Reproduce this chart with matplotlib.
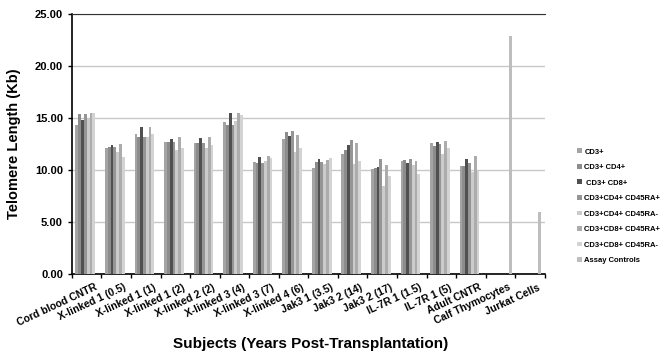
import matplotlib.pyplot as plt
import numpy as np

plt.rcParams['font.family'] = ['Liberation Sans', 'DejaVu Sans']

# subjects (x categories)
subjects = ["Cord blood CNTR", "X-linked 1 (0.5)", "X-linked 1 (1)", "X-linked 1 (2)",
            "X-linked 2 (2)", "X-linked 3 (4)", "X-linked 3 (7)", "X-linked 4 (6)",
            "Jak3 1 (3.5)", "Jak3 2 (14)", "Jak3 2 (17)", "IL-7R 1 (1.5)",
            "IL-7R 1 (5)", "Adult CNTR", "Calf Thymocytes", "Jurkat Cells"]

series_names = ["CD3+", "CD3+ CD4+", " CD3+ CD8+", "CD3+CD4+ CD45RA+",
                "CD3+CD4+ CD45RA-", "CD3+CD8+ CD45RA+", "CD3+CD8+ CD45RA-",
                "Assay Controls"]

# telomere length (Kb), one list per subset, per subject (first 14 subjects)
cd3 =          [14.3, 12.1, 13.5, 12.7, 12.6, 14.6, 10.8, 13.0, 10.2, 11.5, 10.1, 10.9, 12.6, 10.4]
cd3_cd4 =      [15.4, 12.2, 13.2, 12.7, 12.6, 14.3, 10.7, 13.7, 10.8, 11.9, 10.2, 11.0, 12.3, 10.4]
cd3_cd8 =      [14.8, 12.4, 14.1, 13.0, 13.1, 15.5, 11.3, 13.3, 11.1, 12.4, 10.3, 10.7, 12.7, 11.1]
cd4_ra_pos =   [15.4, 12.2, 13.2, 12.7, 12.6, 14.3, 10.7, 13.8, 10.8, 12.9, 11.1, 11.1, 12.5, 10.7]
cd4_ra_neg =   [14.9, 11.7, 13.2, 11.9, 12.1, 14.7, 10.9, 11.7, 10.6, 10.6, 8.5, 10.5, 11.5, 9.8]
cd8_ra_pos =   [15.5, 12.5, 14.1, 13.2, 13.2, 15.5, 11.4, 13.4, 11.0, 12.6, 10.5, 10.9, 12.8, 11.4]
cd8_ra_neg =   [15.5, 11.3, 13.5, 12.1, 12.4, 15.3, 11.2, 12.1, 11.2, 10.9, 9.4, 9.6, 12.1, 9.9]
# assay controls: Calf Thymocytes, Jurkat Cells
controls = [22.9, 6.0]

colors = ["#a4a4a4", "#8c8c8c", "#505050", "#959595",
          "#cbcbcb", "#acacac", "#d3d3d3", "#bdbdbd"]

n = len(subjects)
pad = [np.nan, np.nan]
data = [cd3 + pad, cd3_cd4 + pad, cd3_cd8 + pad, cd4_ra_pos + pad,
        cd4_ra_neg + pad, cd8_ra_pos + pad, cd8_ra_neg + pad,
        [np.nan] * 14 + controls]

fig = plt.figure(figsize=(6.66, 3.62), dpi=100)
ax = fig.add_axes([0.108, 0.243, 0.71, 0.718])

x = np.arange(n)
group_w = 0.76
bw = group_w / len(data)
for i, vals in enumerate(data):
    offs = -group_w / 2 + bw * (i + 0.5)
    ax.bar(x + offs, vals, width=bw, color=colors[i], label=series_names[i],
           linewidth=0, zorder=3)

ax.set_xlim(-0.5, n - 0.5)
ax.set_ylim(0, 25)
ax.set_yticks(np.arange(0, 26, 5))
ax.set_yticklabels(["%.2f" % v for v in np.arange(0, 26, 5)],
                   fontsize=8, fontweight="bold")
ax.yaxis.grid(True, color="#c8c8c8", linewidth=1, zorder=0)

# tick marks between categories, labels slightly right of centers
ax.set_xticks(np.arange(n + 1) - 0.5)
ax.set_xticklabels([])
ax.set_xticks(x + 0.25, minor=True)
ax.set_xticklabels(subjects, minor=True, rotation=25, ha="right",
                   rotation_mode="anchor", fontsize=7.5, fontweight="bold")
ax.tick_params(axis="x", which="minor", length=0, pad=6)
ax.tick_params(axis="x", which="major", length=3, width=1, direction="out")
ax.tick_params(axis="y", length=3, width=1)

ax.spines["right"].set_visible(False)
ax.spines["top"].set_color("#333333")
ax.spines["left"].set_linewidth(1.2)
ax.spines["bottom"].set_linewidth(1.2)

ax.set_ylabel("Telomere Length (Kb)", fontsize=10.5, fontweight="bold", labelpad=10)
fig.text(0.467, 0.04, "Subjects (Years Post-Transplantation)", ha="center",
         fontsize=11, fontweight="bold")

fig.legend(loc="center left", bbox_to_anchor=(0.862, 0.43), frameon=False,
           prop={"size": 5.5, "weight": "bold"}, handlelength=0.6, handleheight=0.6,
           handletextpad=0.35, labelspacing=1.1, borderaxespad=0)

fig.savefig("out.png", dpi=100)
